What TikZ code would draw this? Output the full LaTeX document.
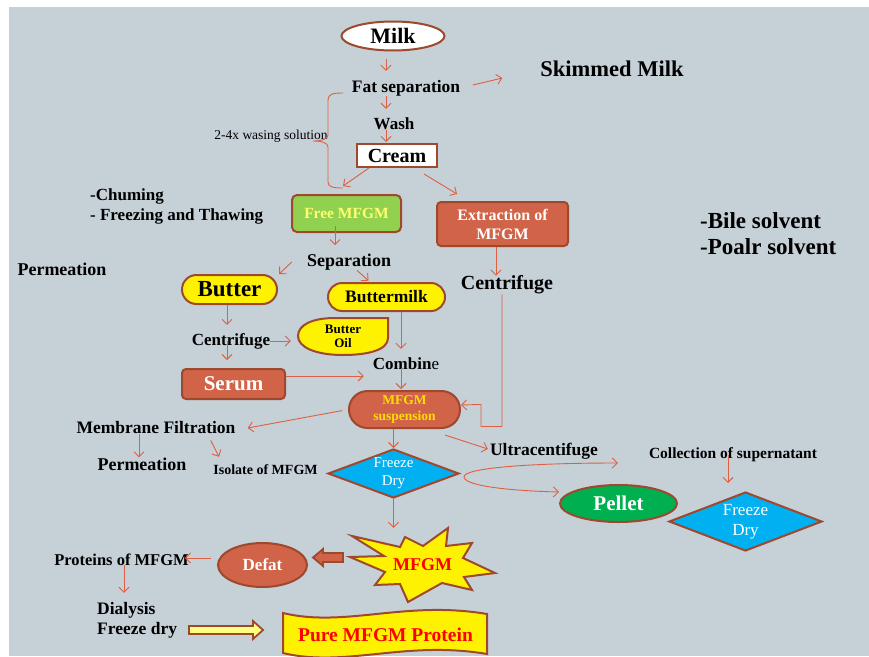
\documentclass[tikz,border=0pt]{standalone}
\usepackage{fontspec}
\setmainfont{Liberation Serif}
\usepackage{tikz}
\usetikzlibrary{shapes,arrows,positioning,calc,arrows.meta}

\definecolor{bgc}{RGB}{198,208,215}
\definecolor{borderc}{RGB}{158,72,45}
\definecolor{arrowc}{RGB}{222,96,66}
\definecolor{redf}{RGB}{209,99,72}
\definecolor{greenf}{RGB}{146,208,80}
\definecolor{paley}{RGB}{255,255,110}
\definecolor{suspy}{RGB}{255,222,0}
\definecolor{cyanf}{RGB}{0,176,240}
\definecolor{pelletg}{RGB}{0,176,80}
\definecolor{redt}{RGB}{255,0,0}
\definecolor{arrowy}{RGB}{255,255,130}

\newcommand{\fsz}[2]{\fontsize{#1}{#2}\selectfont}

\tikzset{
  arr/.style={draw=arrowc, line width=0.9pt, -{Straight Barb[length=5pt,width=10pt]}},
  box/.style={draw=borderc, line width=2pt},
  lbl/.style={inner sep=0pt, font=\bfseries\fsz{#1}{#1}},
  dtext/.style 2 args={inner sep=0pt, text=white, align=center, font=\fsz{#1}{#2}},
}

\begin{document}
\begin{tikzpicture}[x=1pt, y=-1pt]
    \useasboundingbox (0,0) rectangle (869,656);
    \clip (0,0) rectangle (869,656);
    % Background
    \fill[bgc] (9,7) rectangle (869,656);

    % Milk, washing, cream
    \node[ellipse, box, fill=white, minimum width=103pt, minimum height=29pt, inner sep=0pt, font=\bfseries\fsz{22}{22}] (milk) at (393,36) {Milk};
    \node[lbl=17.5] (fatsep) at (406,88) {Fat separation};
    \node[lbl=22.5] (skim) at (612,69) {Skimmed Milk};
    \node[lbl=17] (wash) at (394,124) {Wash};
    \node[rectangle, box, fill=white, minimum width=80pt, minimum height=23pt, inner sep=0pt, font=\bfseries\fsz{20}{20}] (cream) at (397,155.5) {Cream};
    \node[inner sep=0pt, font=\fsz{13.5}{13.5}] (washsol) at (271,136) {2-4x wasing solution};
    \draw[arrowc, line width=0.9pt] (343,93) .. controls (333,93) and (328,94) .. (328,100) -- (328,135) .. controls (328,139) and (322,141) .. (313,141) .. controls (322,141) and (328,143) .. (328,147) -- (328,182) .. controls (328,187) and (333,188) .. (343,188);

    % MFGM sources
    \node[rectangle, rounded corners=5pt, box, fill=greenf, minimum width=109pt, minimum height=37pt, inner sep=0pt, text=paley, font=\bfseries\fsz{15.5}{15.5}] (freemfgm) at (346.5,213.5) {Free MFGM};
    \node[rectangle, rounded corners=4pt, box, fill=redf, minimum width=131pt, minimum height=44pt, inner sep=0pt, text=white, align=center, font=\bfseries\fsz{16}{19}] (extract) at (502.5,224) {Extraction of\\MFGM};
    \node[inner sep=0pt, anchor=west, align=left, font=\bfseries\fsz{17}{19.5}] (chum) at (90,206.5) {-Chuming\\- Freezing and Thawing};
    \node[inner sep=0pt, anchor=west, align=left, font=\bfseries\fsz{23}{26}] (bile) at (700,234) {-Bile solvent\\-Poalr solvent};
    \node[lbl=18] (perm1) at (62,269) {Permeation};

    % Butter branch
    \node[lbl=18] (sep) at (349,262) {Separation};
    \node[rounded rectangle, box, fill=yellow, minimum width=95pt, minimum height=29pt, inner sep=0pt, font=\bfseries\fsz{23}{23}] (butter) at (229.5,289.5) {Butter};
    \node[rounded rectangle, box, fill=yellow, minimum width=117pt, minimum height=28pt, inner sep=0pt, font=\bfseries\fsz{17.5}{17.5}] (bmilk) at (386.5,297) {Buttermilk};
    \node[lbl=17] (cent1) at (231,341) {Centrifuge};
    \draw[box, fill=yellow] (388,318) -- (388,338) .. controls (388,350) and (368,355) .. (343,355) .. controls (315,355) and (298,347) .. (298,336) .. controls (298,325) and (312,318) .. (335,318) -- cycle;
    \node[inner sep=0pt, minimum width=90pt, minimum height=37pt, align=center, font=\bfseries\fsz{13}{14.5}] (oil) at (343,336.5) {Butter\\Oil};
    \node[rectangle, rounded corners=4pt, box, fill=redf, minimum width=103pt, minimum height=30pt, inner sep=0pt, text=white, font=\bfseries\fsz{21}{21}] (serum) at (233.5,384) {Serum};
    \node[lbl=17] (comb) at (406,364) {Combin{\mdseries e}};
    \node[rounded rectangle, box, fill=redf, minimum width=111pt, minimum height=37pt, inner sep=0pt, text=suspy, align=center, font=\bfseries\fsz{13.5}{15.5}] (susp) at (404.5,409.5) {MFGM\\suspension};
    \node[lbl=20] (cent2) at (507,285) {Centrifuge};

    % Isolation
    \node[lbl=17.5] (memb) at (156,428) {Membrane Filtration};
    \node[lbl=18] (perm2) at (142,464) {Permeation};
    \node[lbl=14] (isol) at (265.5,470) {Isolate of MFGM};
    \node[diamond, box, fill=cyanf, minimum width=131pt, minimum height=49pt, inner sep=0pt, label={[dtext={15}{18}]center:Freeze\\Dry}] (fd1) at (393.5,473.5) {};
    \node[lbl=17.5] (ultra) at (544,451) {Ultracentifuge};
    \node[lbl=15.5] (coll) at (733,455) {Collection of supernatant};
    \node[ellipse, box, fill=pelletg, minimum width=117pt, minimum height=37pt, inner sep=0pt, text=white, font=\bfseries\fsz{21}{21}] (pellet) at (618.5,503.5) {Pellet};
    \node[diamond, box, fill=cyanf, minimum width=153pt, minimum height=59pt, inner sep=0pt, label={[dtext={17}{20}]center:Freeze\\Dry}] (fd2) at (745.5,521.5) {};

    % Final products
    \draw[box, fill=yellow] (352,536) -- (400,547) -- (405,537) -- (423,546) -- (448,528) -- (446,546) -- (472,543) -- (463,558) -- (495,573) -- (464,577) -- (472,590) -- (442,583) -- (408,602) -- (400,584) -- (375,585) -- (385,572) -- (350,557) -- (384,556) -- cycle;
    \node[inner sep=0pt, minimum width=145pt, minimum height=74pt, text=redt, font=\bfseries\fsz{18}{18}] (star) at (422.5,565) {MFGM};
    \node[ellipse, box, fill=redf, minimum width=89pt, minimum height=44pt, inner sep=0pt, text=white, font=\bfseries\fsz{17}{17}] (defat) at (262.5,565) {Defat};
    \node[lbl=16.5] (prot) at (121.5,560) {Proteins of MFGM};
    \node[inner sep=0pt, anchor=west, align=left, font=\bfseries\fsz{17.5}{20}] (dial) at (97,620) {Dialysis\\Freeze dry};
    \draw[box, fill=yellow] (283,613) .. controls (345,628) and (405,600) .. (487,614) -- (487,654) .. controls (405,640) and (345,668) .. (283,653) -- cycle;
    \node[inner sep=0pt, text=redt, font=\bfseries\fsz{19.5}{19.5}] (pure) at (385.5,635) {Pure MFGM Protein};

    % Block arrows
    \draw[borderc, line width=1.8pt, fill=redf] (343,553) -- (323,553) -- (323,549) -- (313,557.5) -- (323,566) -- (323,562) -- (343,562) -- cycle;
    \draw[borderc, line width=1.8pt, fill=arrowy] (189,626) -- (253,626) -- (253,621) -- (263,630) -- (253,639) -- (253,634) -- (189,634) -- cycle;

    % Thin arrows
    \draw[arr, shorten <=7.5pt, shorten >=9pt] ([xshift=-7pt]milk.south) -- ([xshift=-20pt]fatsep.north);
    \draw[arr, shorten <=13pt, shorten >=39pt] (fatsep.east) -- (skim.west);
    \draw[arr, shorten >=9pt] ([xshift=-20pt]fatsep.south) -- ([xshift=-8pt]wash.north);
    \draw[arr, shorten >=1pt] ([xshift=-8pt]wash.south) -- ([xshift=-11pt]cream.north);
    \draw[arr] ([xshift=13pt]cream.south west) -- ([xshift=-3.5pt,yshift=8pt]freemfgm.north);
    \draw[arr] ([xshift=-14pt,yshift=-6pt]cream.south east) -- ([xshift=21pt,yshift=7pt]extract.north west);
    \draw[arr, shorten <=-7pt, shorten >=8.5pt] ([xshift=-11.5pt]freemfgm.south) -- ([xshift=-14pt]sep.north);
    \draw[arr] ([xshift=-15pt]sep.west) -- ([xshift=1pt,yshift=15.5pt]butter.east);
    \draw[arr, shorten >=2pt] ([xshift=8pt]sep.south) -- ([xshift=-16.5pt]bmilk.north);
    \draw[arr, shorten >=8pt] ([xshift=-2.5pt]butter.south) -- ([xshift=-4pt]cent1.north);
    \draw[arr, shorten >=7pt] (cent1.east) -- (cent1.east -| oil.west);
    \draw[arr, shorten >=8pt] ([xshift=-4pt]cent1.center) -- ([xshift=-6.5pt]serum.north);
    \coordinate (serumout) at ([yshift=8pt]serum.east);
    \draw[arr, shorten >=9pt] (serumout) -- (serumout -| comb.west);
    \draw[arr, shorten >=9pt] ([xshift=14.5pt]bmilk.south) -- ([xshift=-5pt]comb.north);
    \draw[arr, shorten <=-2pt, shorten >=1pt] ([xshift=-5pt]comb.south) -- ([xshift=-3.5pt]susp.north);
    \draw[arr] ([xshift=-6.5pt]extract.south) -- ([xshift=-11pt]cent2.north);
    \draw[arr] ([xshift=-5pt]cent2.south) -- ++(0,132) -- ++(-21,0) -- ++(0,-22) -- ([yshift=4.5pt]susp.east);
    \draw[arr, shorten <=6pt] (susp.west) -- ([xshift=12pt]memb.east);
    \draw[arr] ([xshift=-17pt]memb.south) -- ([xshift=-3pt]perm2.north);
    \draw[arr] ([xshift=-25pt,yshift=-6pt]memb.south east) -- ([xshift=-46.5pt,yshift=8pt]isol.north);
    \draw[arr] ([xshift=-11pt]susp.south) -- (fd1.north);
    \draw[arr] ([xshift=-16pt,yshift=-25.5pt]susp.east) -- ([xshift=-2pt,yshift=2pt]ultra.west);
    \coordinate (loopup) at ([xshift=-31pt,yshift=-8pt]coll.west);
    \coordinate (loopleft) at ([xshift=4pt,yshift=-3.5pt]fd1.east);
    \coordinate (looplow) at ([yshift=11.5pt]pellet.west);
    \draw[arr, {Straight Barb[length=5pt,width=10pt]}-{Straight Barb[length=5pt,width=10pt]}] (loopup) .. controls +(-88,0) and +(-1,-9) .. (loopleft) .. controls +(1,10) and +(-40,-1) .. (looplow);
    \draw[arr, shorten >=8pt] ([xshift=-5pt]coll.center) -- ([xshift=-17.5pt]fd2.north);
    \draw[arr] (fd1.south) -- (fd1.south |- star.north);
    \draw[arr] ([xshift=-6pt,yshift=7pt]defat.west) -- ([xshift=-4pt,yshift=2pt]prot.east);
    \draw[arr, shorten <=5pt, shorten >=9pt] ([xshift=2.5pt]prot.center) -- ([xshift=27pt]dial.north west);
\end{tikzpicture}
\end{document}
